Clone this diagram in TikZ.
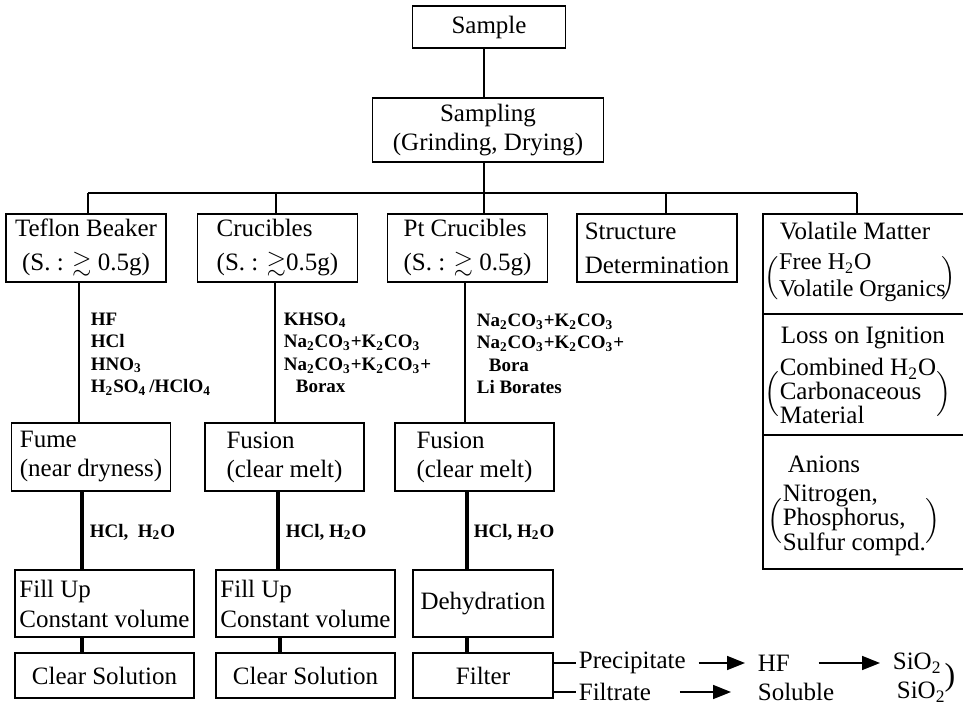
\documentclass[tikz,border=0pt]{standalone}
\usepackage{fontspec}
\usepackage{amssymb}
\setmainfont{Liberation Serif}
\usetikzlibrary{arrows.meta}
\begin{document}
\begin{tikzpicture}[x=0.5pt, y=-0.5pt, line width=0.85pt,
    font=\fontsize{12.5}{14.5}\selectfont,
    box/.style={draw, align=left, inner sep=2pt},
    head/.style={box, minimum width=80pt, minimum height=34pt, font=\fontsize{12.5}{17}\selectfont},
    melt/.style={box, minimum width=79.5pt, minimum height=34pt},
    volbox/.style={box, minimum width=89.5pt, minimum height=33.5pt, font=\fontsize{12.5}{15}\selectfont},
    solbox/.style={box, minimum width=89.5pt, minimum height=22.5pt},
    part/.style={draw, minimum width=104pt},
    txt/.style={anchor=west, inner sep=0pt},
    reagent/.style={anchor=north west, inner sep=0pt, align=left, font=\fontsize{9.5}{11.25}\selectfont\bfseries},
    acid/.style={anchor=west, inner sep=0pt, font=\fontsize{9.5}{11}\selectfont\bfseries},
    heavy/.style={line width=1.7pt},
    flow/.style={-{Triangle[length=9pt, width=7pt]}, shorten <=5pt, shorten >=5pt}]
  \useasboundingbox (0,0) rectangle (963,707);

  % top of the tree
  \node[box, align=center, minimum width=76.5pt, minimum height=21pt] (sample) at (489,27) {Sample};
  \node[box, align=center, minimum width=115.5pt, minimum height=32pt] (sampling) at (488,130) {Sampling\\(Grinding, Drying)};

  % first row
  \node[head, align=center] (teflon) at (86,248) {Teflon Beaker\\(S. : $\gtrsim$ 0.5g)};
  \node[head] (cruc) at (277.5,248) {Crucibles\\(S. : $\gtrsim$0.5g)};
  \node[head] (ptcruc) at (467.5,248) {Pt Crucibles\\(S. : $\gtrsim$ 0.5g)};
  \node[head] (struct) at (657,248) {Structure\\Determination};

  % volatile column
  \node[part, minimum height=50pt] (volm) at (867,264) {};
  \node[part, minimum height=60.5pt] (loss) at (867,374.5) {};
  \node[part, minimum height=67pt] (anio) at (867,502) {};
  \node[txt] (volm-t) at (779,231) {Volatile Matter};
  \node[txt] (volm-b) at (764,278) {\fontsize{12}{13.5}\selectfont$\Bigl(\begin{tabular}{@{}l@{}}Free H\textsubscript{2}O\\Volatile Organics\end{tabular}\mkern-3mu\Bigr)$};
  \node[txt] (loss-t) at (780,338) {Loss on Ignition};
  \node[txt] (loss-b) at (764,394) {\fontsize{12.5}{11}\selectfont$\biggl(\begin{tabular}{@{}l@{}}Combined H\textsubscript{2}O\\Carbonaceous\\Material\end{tabular}\biggr)$};
  \node[txt] (anio-t) at (787,464) {Anions};
  \node[txt] (anio-b) at (767,521) {\fontsize{12.5}{12}\selectfont$\biggl(\begin{tabular}{@{}l@{}}Nitrogen,\\Phosphorus,\\Sulfur compd.\end{tabular}\biggr)$};

  % second row
  \node[melt] (fume) at (91,457) {Fume\\(near dryness)};
  \node[melt] (fus1) at (284.5,457) {Fusion\\(clear melt)};
  \node[melt] (fus2) at (474.5,457) {Fusion\\(clear melt)};

  % third and fourth row
  \node[volbox] (fill1) at (104.5,603.5) {Fill Up\\Constant volume};
  \node[volbox] (fill2) at (305.5,603.5) {Fill Up\\Constant volume};
  \node[box, align=center, minimum width=70pt, minimum height=33.5pt] (dehyd) at (483,603.5) {Dehydration};
  \node[solbox] (clear1) at (104.5,675.5) {Clear Solution};
  \node[solbox] (clear2) at (305.5,675.5) {Clear Solution};
  \node[box, align=center, minimum width=70pt, minimum height=22.5pt] (filter) at (483,675.5) {Filter};

  % tree connectors
  \foreach \n/\x in {teflon/88, cruc/276, ptcruc/484, struct/666, volm/857} {
    \coordinate (d-\n) at (\x,193);
    \draw (d-\n) -- (d-\n |- \n.north);
  }
  \draw (d-teflon) -- (d-volm);
  \draw (sample.south -| d-ptcruc) -- (sampling.north -| d-ptcruc);
  \draw (sampling.south -| d-ptcruc) -- (d-ptcruc);

  % column connectors
  \foreach \a/\b/\x in {teflon/fume/79, cruc/fus1/275, ptcruc/fus2/465} {
    \coordinate (c-\b) at (\x,0);
    \draw (\a.south -| c-\b) -- (\b.north -| c-\b);
  }
  \foreach \a/\b/\x in {fume/fill1/82, fill1/clear1/82, fus1/fill2/278, fill2/clear2/280, fus2/dehyd/467, dehyd/filter/467} {
    \coordinate (c-\b) at (\x,0);
    \draw[heavy] (\a.south -| c-\b) -- (\b.north -| c-\b);
  }

  % reagents
  \node[reagent] (rg-teflon) at (90,312) {HF\\HCl\\HNO\textsubscript{3}\\H\textsubscript{2}SO\textsubscript{4}\,/HClO\textsubscript{4}};
  \node[reagent] (rg-cruc) at (283,312) {KHSO\textsubscript{4}\\Na\textsubscript{2}CO\textsubscript{3}+K\textsubscript{2}CO\textsubscript{3}\\Na\textsubscript{2}CO\textsubscript{3}+K\textsubscript{2}CO\textsubscript{3}+\\\hspace*{6pt}Borax};
  \node[reagent] (rg-pt) at (476,313) {Na\textsubscript{2}CO\textsubscript{3}+K\textsubscript{2}CO\textsubscript{3}\\Na\textsubscript{2}CO\textsubscript{3}+K\textsubscript{2}CO\textsubscript{3}+\\\hspace*{6pt}Bora\\Li Borates};
  \node[acid] (acid1) at (89,532) {HCl,\ \ H\textsubscript{2}O};
  \node[acid] (acid2) at (285,532) {HCl, H\textsubscript{2}O};
  \node[acid] (acid3) at (473,532) {HCl, H\textsubscript{2}O};

  % filter products
  \node[txt, inner sep=1pt] (prec) at (576,663) {Precipitate};
  \node[txt, inner sep=1pt] (hf) at (755,663) {HF};
  \node[txt, inner sep=1pt] (sio-a) at (890,663) {SiO\textsubscript{2}};
  \node[txt, inner sep=1pt] (filt) at (576,692) {Filtrate};
  \node[txt, inner sep=1pt] (sol) at (755,692) {Soluble};
  \node[txt, inner sep=1pt] (sio-b) at (894,692) {SiO\textsubscript{2}};
  \node (brk) at (950,678) {\fontsize{16}{16}\selectfont)};
  \draw (filter.east |- prec) -- (prec.west);
  \draw (filter.east |- filt) -- (filt.west);
  \draw[flow] (prec) -- (hf);
  \draw[flow, shorten <=13pt] (hf) -- (sio-a);
  \draw[flow, shorten <=13pt, shorten >=12pt] (filt) -- (sol);
\end{tikzpicture}
\end{document}
